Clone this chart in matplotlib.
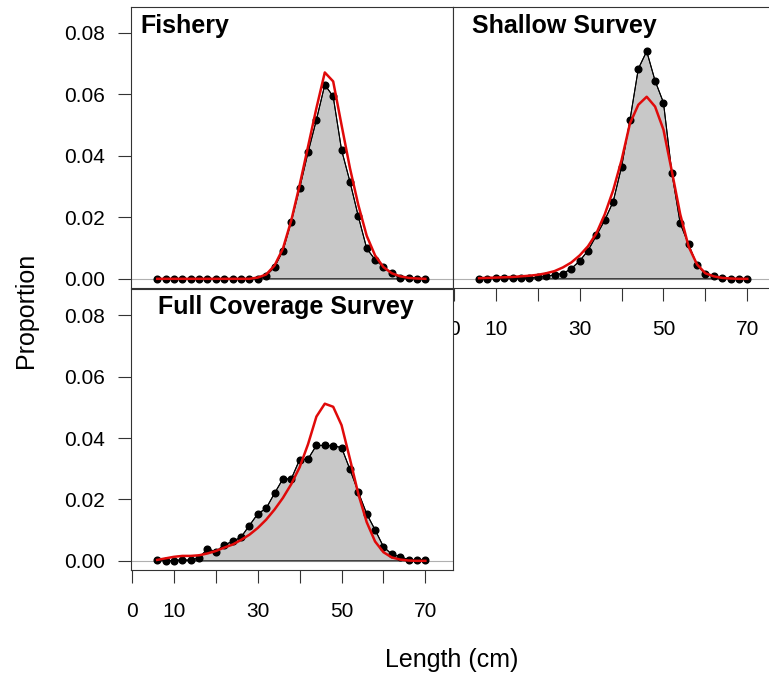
import numpy as np
import matplotlib.pyplot as plt

plt.rcParams['font.family'] = ['Liberation Sans', 'DejaVu Sans']

# length bins (cm)
length = np.arange(6, 72, 2)

# observed (points) and expected (red line) proportions at length
fishery_obs = [0, 0, 0, 0, 0, 0, 0, 0, 0, 0, 0, 0, 0,
               0.0010, 0.0038, 0.0091, 0.0186, 0.0295, 0.0411, 0.0517, 0.0631,
               0.0593, 0.0419, 0.0316, 0.0203, 0.0099, 0.0062, 0.0039, 0.0018,
               0.0003, 0.0003, 0.0, 0.0]
fishery_exp = [0, 0, 0, 0, 0, 0, 0, 0, 0, 0, 0, 0,
               0.0004, 0.0014, 0.0043, 0.0098, 0.0190, 0.0305, 0.0430, 0.0555,
               0.0671, 0.0642, 0.0500, 0.0360, 0.0240, 0.0140, 0.0076, 0.0038,
               0.0018, 0.0008, 0.0003, 0.0001, 0.0]

shallow_obs = [0.0, 0.0, 0.0002, 0.0002, 0.0002, 0.0003, 0.0003, 0.0005,
               0.0008, 0.0013, 0.0017, 0.0033, 0.0058, 0.0092, 0.0141, 0.0191,
               0.0251, 0.0364, 0.0516, 0.0683, 0.0740, 0.0644, 0.0573, 0.0345,
               0.0180, 0.0112, 0.0045, 0.0016, 0.0008, 0.0003, 0.0, 0.0, 0.0]
shallow_exp = [0.0002, 0.0003, 0.0004, 0.0005, 0.0006, 0.0008, 0.0010, 0.0013,
               0.0018, 0.0025, 0.0037, 0.0053, 0.0076, 0.0106, 0.0148, 0.0210,
               0.0288, 0.0386, 0.0505, 0.0566, 0.0592, 0.0560, 0.0485, 0.0350,
               0.0210, 0.0105, 0.0047, 0.0018, 0.0008, 0.0003, 0.0001, 0.0, 0.0]

full_obs = [0.0003, 0.0, 0.0001, 0.0003, 0.0002, 0.0010, 0.0039, 0.0030,
            0.0052, 0.0063, 0.0077, 0.0115, 0.0153, 0.0171, 0.0220, 0.0267,
            0.0267, 0.0330, 0.0332, 0.0376, 0.0376, 0.0375, 0.0369, 0.0298,
            0.0224, 0.0153, 0.0101, 0.0046, 0.0021, 0.0014, 0.0003, 0.0003,
            0.0003]
full_exp = [0.0003, 0.0008, 0.0013, 0.0016, 0.0016, 0.0018, 0.0024, 0.0032,
            0.0043, 0.0053, 0.0068, 0.0085, 0.0107, 0.0134, 0.0167, 0.0205,
            0.0250, 0.0305, 0.0380, 0.0470, 0.0512, 0.0502, 0.0442, 0.0332,
            0.0218, 0.0126, 0.0063, 0.0028, 0.0011, 0.0004, 0.0001, 0.0, 0.0]

panel_names = ['Fishery', 'Shallow Survey', 'Full Coverage Survey']

xticks = np.arange(0, 80, 10)
xticklabels = ['0', '10', '', '30', '', '50', '', '70']
yticks = [0.0, 0.02, 0.04, 0.06, 0.08]
yticklabels = ['0.00', '0.02', '0.04', '0.06', '0.08']

fig = plt.figure(figsize=(7.69, 6.79), dpi=100)
ax1 = fig.add_axes([0.1704, 0.5758, 0.4187, 0.4144])
ax2 = fig.add_axes([0.5890, 0.5758, 0.4187, 0.4144])
ax3 = fig.add_axes([0.1704, 0.1605, 0.4187, 0.4135])

panels = [(ax1, fishery_obs, fishery_exp, 0.028, 0.905),
          (ax2, shallow_obs, shallow_exp, 0.059, 0.905),
          (ax3, full_obs, full_exp, 0.084, 0.911)]

for i, (ax, obs, exp, tx, ty) in enumerate(panels):
    ax.axhline(0, color='#b0b0b0', lw=0.8, zorder=1)
    ax.fill(np.r_[length, length[::-1]], np.r_[obs, np.zeros(len(obs))],
            facecolor='#c8c8c8', edgecolor='black', lw=0.7, zorder=2)
    ax.plot(length, obs, color='black', lw=0.8, marker='o', ms=4.8, zorder=3)
    ax.plot(length, exp, color='#e00a0a', lw=1.8, zorder=4)
    ax.text(tx, ty, panel_names[i], transform=ax.transAxes,
            fontsize=18, fontweight='bold', va='baseline', ha='left')
    ax.set_xlim(-0.24, 76.6)
    ax.set_ylim(-0.003, 0.0885)
    for s in ax.spines.values():
        s.set_color('#333333')
        s.set_linewidth(0.8)
    ax.tick_params(colors='#333333', labelcolor='black', labelsize=15, width=0.8)

# y axis only on the left column, x axis only on the bottom row
ax1.set_xticks([])
ax1.set_yticks(yticks)
ax1.set_yticklabels(yticklabels)
ax3.set_yticks(yticks)
ax3.set_yticklabels(yticklabels)
ax2.set_yticks([])
for ax in [ax2, ax3]:
    ax.set_xticks(xticks)
    ax.set_xticklabels(xticklabels)
    ax.tick_params(axis='x', direction='out', length=9, pad=14)
for ax in [ax1, ax3]:
    ax.tick_params(axis='y', direction='out', length=9.5, pad=9)

fig.text(0.034, 0.543, 'Proportion', rotation=90, fontsize=18,
         ha='center', va='center')
fig.text(0.588, 0.028, 'Length (cm)', fontsize=18, ha='center', va='center')

fig.savefig('out.png', dpi=100)
